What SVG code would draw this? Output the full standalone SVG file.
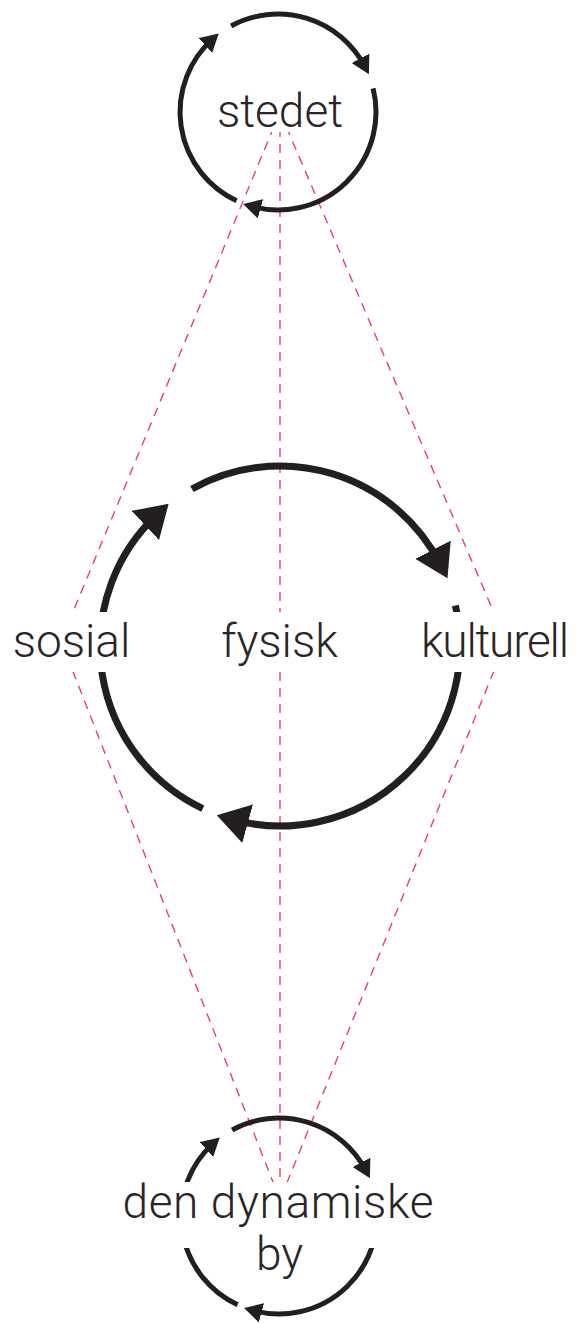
<svg xmlns="http://www.w3.org/2000/svg" width="577" height="1323" viewBox="0 0 577 1323">
<style>
.conn{fill:none;stroke:#ee4258;stroke-width:1.4;stroke-dasharray:9 7}
.arc{fill:none;stroke:#231f20}
.small{stroke-width:5;marker-end:url(#ahS)}
.big{stroke-width:7;marker-end:url(#ahB)}
.mask{fill:#ffffff}
.lbl{font-family:"Roboto","Liberation Sans",sans-serif;font-weight:300;font-size:46px;fill:#2a2627;text-anchor:middle}
</style>
<defs>
<marker id="ahS" markerUnits="userSpaceOnUse" orient="auto" viewBox="0 0 18 20" markerWidth="18" markerHeight="20" refX="9" refY="10"><path d="M0,0 L18,10 L0,20 z" fill="#231f20"/></marker>
<marker id="ahB" markerUnits="userSpaceOnUse" orient="auto" viewBox="0 0 32 40" markerWidth="32" markerHeight="40" refX="16" refY="20"><path d="M0,0 L32,20 L0,40 z" fill="#231f20"/></marker>
</defs>
<rect width="577" height="1323" fill="#ffffff"/>
<g id="connectors">
<line class="conn" x1="280" y1="112" x2="61" y2="641"/>
<line class="conn" x1="280" y1="112" x2="506" y2="641"/>
<line class="conn" x1="280" y1="112" x2="280" y2="1200"/>
<line class="conn" x1="61" y1="641" x2="280" y2="1200"/>
<line class="conn" x1="506" y1="641" x2="280" y2="1200"/>
</g>
<g id="node-cycle">
<path class="arc big" d="M191.9,489 A180,180 0 0 1 440.2,564"/>
<path class="arc big" d="M455.4,605.5 A180,180 0 0 1 232.2,819.5"/>
<path class="arc big" d="M202.8,808.6 A180,180 0 0 1 157,514.6"/>
</g>
<g id="node-stedet">
<path class="arc small" d="M231.1,26 A98,98 0 0 1 364.7,66.3"/>
<path class="arc small" d="M373.1,88.3 A98,98 0 0 1 251.8,206.4"/>
<path class="arc small" d="M236.6,200.8 A98,98 0 0 1 212.1,39.5"/>
<rect class="mask" x="210" y="76" width="140" height="56"/>
<text class="lbl" x="280" y="127">stedet</text>
</g>
<g id="node-sosial">
<rect class="mask" x="8" y="612" width="128" height="60"/>
<text class="lbl" x="71.5" y="657">sosial</text>
</g>
<g id="node-fysisk">
<rect class="mask" x="215" y="612" width="130" height="60"/>
<text class="lbl" x="279.5" y="657">fysisk</text>
</g>
<g id="node-kulturell">
<rect class="mask" x="415" y="612" width="162" height="60"/>
<text class="lbl" x="495" y="657" textLength="148" lengthAdjust="spacing">kulturell</text>
</g>
<g id="node-den-dynamiske-by">
<path class="arc small" d="M232.1,1130 A98,98 0 0 1 365.7,1170.3"/>
<path class="arc small" d="M374.1,1192.3 A98,98 0 0 1 252.8,1310.4"/>
<path class="arc small" d="M237.6,1304.8 A98,98 0 0 1 213.1,1143.5"/>
<rect class="mask" x="115" y="1182" width="328" height="66"/>
<text class="lbl" x="278" y="1218" textLength="311" lengthAdjust="spacing">den dynamiske</text>
<text class="lbl" x="279.5" y="1270">by</text>
</g>
</svg>
